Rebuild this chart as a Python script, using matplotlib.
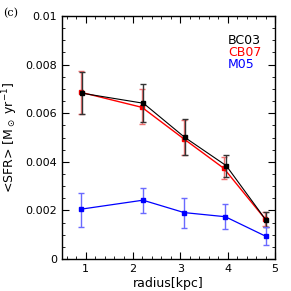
import matplotlib.pyplot as plt
from matplotlib.ticker import MultipleLocator

# radius [kpc] and <SFR> for the three population synthesis models
r_bc03 = [0.93, 2.22, 3.09, 3.97, 4.81]
sfr_bc03 = [0.00682, 0.00641, 0.00501, 0.00384, 0.00160]
lo_bc03 = [0.00595, 0.00565, 0.00428, 0.00339, 0.00130]
hi_bc03 = [0.00768, 0.00719, 0.00575, 0.00427, 0.00195]

r_cb07 = [0.90, 2.19, 3.07, 3.92, 4.79]
sfr_cb07 = [0.00686, 0.00624, 0.00495, 0.00373, 0.00165]
lo_cb07 = [0.00598, 0.00556, 0.00430, 0.00328, 0.00135]
hi_cb07 = [0.00775, 0.00700, 0.00572, 0.00419, 0.00195]

r_m05 = [0.90, 2.21, 3.08, 3.95, 4.81]
sfr_m05 = [0.00205, 0.00242, 0.00191, 0.00174, 0.00093]
lo_m05 = [0.00133, 0.00190, 0.00126, 0.00123, 0.00056]
hi_m05 = [0.00270, 0.00291, 0.00250, 0.00225, 0.00130]

plt.rcParams["font.family"] = "DejaVu Sans"
plt.rcParams["font.size"] = 8

fig = plt.figure(figsize=(2.91, 2.91), dpi=100)
ax = fig.add_axes([62 / 291, 32 / 291, 213 / 291, 243 / 291])


def draw(r, y, lo, hi, color, ecolor, lw):
    yerr = [[v - l for v, l in zip(y, lo)], [h - v for v, h in zip(y, hi)]]
    ax.errorbar(r, y, yerr=yerr, fmt="none", ecolor=ecolor, elinewidth=1.0,
                capsize=2.0, capthick=1.0)
    ax.plot(r, y, color=color, lw=lw, marker="s", ms=2.5)


draw(r_cb07, sfr_cb07, lo_cb07, hi_cb07, "red", "#f07070", 1.0)
draw(r_bc03, sfr_bc03, lo_bc03, hi_bc03, "black", "#333333", 0.8)
draw(r_m05, sfr_m05, lo_m05, hi_m05, "blue", "#6a6aff", 0.9)

ax.set_xlim(0.5, 5)
ax.set_ylim(0, 0.01)
ax.xaxis.set_major_locator(MultipleLocator(1))
ax.xaxis.set_minor_locator(MultipleLocator(0.2))
ax.yaxis.set_major_locator(MultipleLocator(0.002))
ax.yaxis.set_minor_locator(MultipleLocator(0.0005))
ax.set_yticks([0, 0.002, 0.004, 0.006, 0.008, 0.01])
ax.set_yticklabels(["0", "0.002", "0.004", "0.006", "0.008", "0.01"])
ax.tick_params(which="both", direction="in", top=True, right=True, labelsize=8)
ax.tick_params(which="major", length=5)
ax.tick_params(which="minor", length=2.5)
for s in ax.spines.values():
    s.set_linewidth(1.0)

ax.set_xlabel("radius[kpc]", fontsize=9, labelpad=2)
ax.set_ylabel(r"<SFR> [M$_\odot$ yr$^{-1}$]", fontsize=9, labelpad=4)

# model labels, stacked at top right
ax.text(0.78, 0.898, "BC03", transform=ax.transAxes, va="center", color="black", fontsize=9)
ax.text(0.78, 0.849, "CB07", transform=ax.transAxes, va="center", color="red", fontsize=9)
ax.text(0.78, 0.801, "M05", transform=ax.transAxes, va="center", color="blue", fontsize=9)
fig.text(3 / 291, 1 - 13 / 291, "(c)", fontsize=8, va="center", family="DejaVu Serif")

fig.savefig("out.png", dpi=100)
